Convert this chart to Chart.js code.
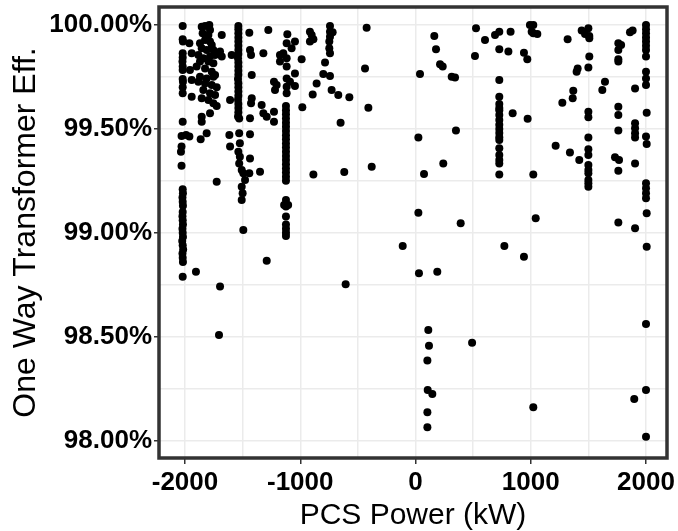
<!DOCTYPE html>
<html><head><meta charset="utf-8">
<script src="https://cdn.jsdelivr.net/npm/chart.js@4.4.0/dist/chart.umd.min.js"></script>
<style>html,body{margin:0;padding:0;background:#fff;}#wrap{width:678px;height:531px;}</style>
</head><body><div id="wrap"><canvas id="c" width="678" height="531"></canvas></div>
<script>
// Axis ticks
const xGridTicks = [-2000,-1500,-1000,-500,0,500,1000,1500,2000];
const xLabelTicks = [-2000,-1000,0,1000,2000];
const yGridTicks = [98.0,98.25,98.5,98.75,99.0,99.25,99.5,99.75,100.0];
const yLabelTicks = [98.0,98.5,99.0,99.5,100.0];
const xTitle = 'PCS Power (kW)';
const yTitle = 'One Way Transformer Eff.';

// Data: [PCS power kW, one-way transformer efficiency %]
const colMinus2000 = [[-2020,99.995],[-2020,99.931],[-2018,99.920],[-2020,99.864],[-2020,99.844],[-2022,99.824],[-2020,99.800],[-2020,99.783],[-2020,99.740],[-2018,99.727],[-2020,99.700],[-2020,99.671],[-2020,99.535],[-2030,99.466],[-2030,99.415],[-2035,99.390],[-2030,99.323],
[-2020,99.210],[-2018,99.190],[-2022,99.170],[-2020,99.150],[-2018,99.130],[-2020,99.100],[-2022,99.080],[-2020,99.060],[-2018,99.040],[-2022,99.020],[-2020,99.000],[-2018,98.980],[-2024,98.960],[-2020,98.940],[-2016,98.920],[-2022,98.900],[-2020,98.880],[-2018,98.860],[-2020,98.789]];
const clusterMinus1800 = [[-1962,99.912],[-1942,99.864],[-1957,99.783],[-1942,99.735],[-1942,99.655],[-1962,99.463],[-1991,99.471],
[-1855,99.992],[-1826,99.995],[-1789,100.0],[-1783,99.976],[-1847,99.960],[-1797,99.952],[-1826,99.928],[-1783,99.920],[-1870,99.912],[-1768,99.904],[-1855,99.888],[-1812,99.880],[-1754,99.880],[-1884,99.856],[-1841,99.840],[-1783,99.848],[-1739,99.856],[-1870,99.824],[-1797,99.824],[-1754,99.816],[-1899,99.800],[-1826,99.791],[-1768,99.775],[-1739,99.759],[-1870,99.751],[-1812,99.743],[-1754,99.751],[-1884,99.727],[-1826,99.719],[-1768,99.711],[-1725,99.700],[-1841,99.687],[-1783,99.671],[-1739,99.663],[-1855,99.647],[-1797,99.639],[-1754,99.623],[-1725,99.610],[-1783,99.575],[-1855,99.559],[-1855,99.535],[-1812,99.479],[-1864,99.450],[-1725,99.246],
[-1681,99.952],[-1696,99.872],[-1681,99.848],[-1905,98.813],[-1696,98.741],[-1705,98.508]];
const colMinus1500 = [[-1537,99.995],[-1537,99.98],[-1537,99.96],[-1537,99.94],[-1537,99.92],[-1537,99.90],[-1537,99.88],[-1537,99.86],[-1540,99.84],[-1537,99.82],[-1537,99.80],[-1537,99.78],[-1537,99.76],[-1540,99.74],[-1537,99.72],[-1537,99.70],[-1537,99.68],[-1537,99.66],[-1540,99.64],[-1537,99.62],[-1537,99.60],[-1537,99.58],[-1540,99.56],[-1530,99.55],
[-1530,99.479],[-1524,99.431],[-1537,99.390],[-1524,99.366],[-1530,99.334],[-1508,99.302],[-1494,99.286],[-1479,99.254],[-1508,99.222],[-1500,99.190],[-1508,99.158],[-1494,99.014],
[-1595,99.856],[-1609,99.639],[-1615,99.471],[-1609,99.415]];
const scatterMinus1300 = [[-1442,99.963],[-1436,99.880],[-1427,99.856],[-1421,99.759],[-1421,99.647],[-1427,99.623],[-1436,99.551],[-1436,99.474],[-1436,99.358],[-1442,99.286],
[-1277,99.976],[-1320,99.864],[-1335,99.615],[-1320,99.575],[-1291,99.559],[-1349,99.294],
[-1228,99.727],[-1219,99.687],[-1228,99.583],[-1228,99.535],[-1291,98.866]];
const colMinus1100 = [[-1112,99.955],[-1118,99.912],[-1046,99.920],[-1075,99.888],[-1176,99.856],[-1147,99.864],[-1118,99.840],[-1176,99.824],[-1118,99.800],[-1046,99.767],[-1118,99.743],[-1089,99.727],[-1205,99.711],[-1118,99.703],[-1046,99.706],[-1118,99.671],
[-1124,99.61],[-1124,99.59],[-1124,99.57],[-1124,99.55],[-1124,99.53],[-1124,99.51],[-1124,99.49],[-1124,99.47],[-1124,99.45],[-1124,99.43],[-1124,99.41],[-1124,99.39],[-1124,99.37],[-1124,99.35],[-1124,99.33],[-1124,99.31],[-1124,99.29],[-1124,99.27],[-1124,99.25],
[-1124,99.158],[-1140,99.134],[-1105,99.134],[-1124,99.126],[-1124,99.078],[-1124,99.040],[-1124,99.020],[-1124,99.000],[-1124,98.985]];
const scatterMinus700 = [[-988,99.835],[-916,99.968],[-901,99.952],[-916,99.920],[-886,99.931],[-858,99.719],[-892,99.666],[-982,99.604],[-886,99.281],
[-742,99.995],[-742,99.968],[-719,99.965],[-742,99.944],[-748,99.920],[-748,99.888],[-742,99.864],[-785,99.819],[-800,99.764],[-742,99.755],[-728,99.687],[-670,99.663],[-574,99.652],[-650,99.530],[-618,99.293],[-606,98.752],
[-424,99.987],[-438,99.791],[-409,99.602],[-380,99.318],[-111,98.936]];
const scatterLowPos = [[163,99.947],[178,99.883],[213,99.811],[236,99.800],[39,99.764],[314,99.751],[343,99.747],[25,99.459],[351,99.492],[241,99.334],[74,99.283],[25,99.097],[392,99.046],[30,98.805],[189,98.813],[111,98.532],[117,98.457],[103,98.385],[106,98.244],[146,98.224],[103,98.136],[103,98.064],[491,98.471],[525,99.984],[516,99.851],[603,99.928]];
const colPlus750 = [[690,99.952],[727,99.968],[825,99.968],[727,99.883],[806,99.872],[941,99.867],[970,99.835],[993,100.0],[1022,100.0],[1008,99.968],[1057,99.957],[1022,99.960],
[727,99.735],[727,99.655],[727,99.62],[727,99.60],[727,99.59],[727,99.567],[727,99.543],[727,99.52],[727,99.50],[727,99.48],[727,99.46],[727,99.447],[727,99.407],[727,99.374],[727,99.350],[727,99.334],[727,99.281],
[843,99.575],[973,99.549],[1022,99.281],[1043,99.070],[771,98.936],[941,98.885],[1022,98.160]];
const colPlus1500 = [[1320,99.931],[1442,99.973],[1471,99.957],[1500,99.984],[1508,99.947],[1508,99.936],[1508,99.848],[1407,99.791],[1398,99.775],[1500,99.795],[1369,99.684],[1364,99.647],[1274,99.626],[1500,99.583],[1500,99.556],[1500,99.459],[1216,99.419],[1340,99.386],[1421,99.350],[1500,99.402],[1500,99.374],[1500,99.326],[1500,99.302],[1500,99.286],[1500,99.254],[1500,99.238],[1500,99.222],[1644,99.727],[1621,99.687]];
const colPlus2000 = [[1760,99.912],[1784,99.904],[1760,99.880],[1760,99.835],[1760,99.824],[1861,99.965],[1884,99.973],[1905,99.695],[1760,99.607],[1760,99.567],[1760,99.492],[1731,99.363],[1766,99.350],[1760,99.299],[1905,99.527],[1905,99.503],[1905,99.479],[1905,99.459],[1905,99.334],[1760,99.049],[1905,99.022],[1898,98.200],
[2000,100.0],[2000,99.98],[2000,99.96],[2000,99.94],[2000,99.92],[2000,99.90],[2000,99.88],[2000,99.848],[2000,99.775],[2000,99.743],[2000,99.711],[2006,99.578],[2000,99.463],[2006,99.427],[2000,99.238],[2000,99.214],[2000,99.190],[2000,99.166],[2006,99.094],[2006,98.933],[2000,98.561],[2000,98.244],[2000,98.019]];

const allGroups = [colMinus2000, clusterMinus1800, colMinus1500, scatterMinus1300, colMinus1100, scatterMinus700, scatterLowPos, colPlus750, colPlus1500, colPlus2000];
const points = [];
allGroups.forEach(g => g.forEach(p => points.push({x: p[0], y: p[1]})));

const framePlugin = {
  id: 'frame',
  afterDraw(chart) {
    const a = chart.chartArea, ctx = chart.ctx;
    ctx.save();
    ctx.strokeStyle = '#333333';
    ctx.lineWidth = 3.5;
    ctx.strokeRect(a.left, a.top, a.right - a.left, a.bottom - a.top);
    ctx.restore();
  }
};

const tickFont = { family: '"Liberation Sans", Arial, sans-serif', size: 26, weight: 'bold' };

new Chart(document.getElementById('c'), {
  type: 'scatter',
  data: { datasets: [{ data: points, backgroundColor: '#000000', borderWidth: 0, pointRadius: 4, pointHoverRadius: 4 }] },
  options: {
    responsive: false, animation: false, events: [], devicePixelRatio: 1,
    layout: { padding: { left: 0, right: 11, top: 7, bottom: 0 } },
    plugins: { legend: { display: false }, tooltip: { enabled: false } },
    scales: {
      x: {
        type: 'linear', min: -2225.6, max: 2182.2,
        afterBuildTicks: s => { s.ticks = xGridTicks.map(v => ({ value: v })); },
        afterFit: s => { s.height = 73; s.paddingLeft = 0; s.paddingRight = 0; },
        grid: { color: '#ebebeb', lineWidth: 1.5, drawTicks: true, tickLength: 6, tickWidth: 1.5,
                tickColor: c => (c.tick && xLabelTicks.includes(c.tick.value)) ? '#333333' : 'rgba(0,0,0,0)' },
        border: { display: false },
        ticks: { autoSkip: false, maxRotation: 0, padding: 3, color: '#000000', font: tickFont,
                 callback: v => xLabelTicks.includes(v) ? String(v) : '' },
        title: { display: true, text: xTitle, color: '#000000', padding: { top: 0, bottom: 0 },
                 font: { family: '"Liberation Sans", Arial, sans-serif', size: 30, weight: 'normal', lineHeight: 1 } }
      },
      y: {
        type: 'linear', min: 97.9163, max: 100.0866,
        afterBuildTicks: s => { s.ticks = yGridTicks.map(v => ({ value: v })); },
        afterFit: s => { s.width = 159; s.paddingTop = 0; s.paddingBottom = 0; },
        grid: { color: '#ebebeb', lineWidth: 1.5, drawTicks: true, tickLength: 5, tickWidth: 1.5,
                tickColor: c => (c.tick && yLabelTicks.includes(c.tick.value)) ? '#333333' : 'rgba(0,0,0,0)' },
        border: { display: false },
        ticks: { autoSkip: false, padding: 2, color: '#000000', font: tickFont,
                 callback: v => yLabelTicks.includes(v) ? v.toFixed(2) + '%' : '' },
        title: { display: true, text: yTitle, color: '#000000', padding: { top: 10, bottom: 0 },
                 font: { family: '"Liberation Sans", Arial, sans-serif', size: 32, weight: 'normal', lineHeight: 1 } }
      }
    }
  },
  plugins: [framePlugin]
});
</script></body></html>
